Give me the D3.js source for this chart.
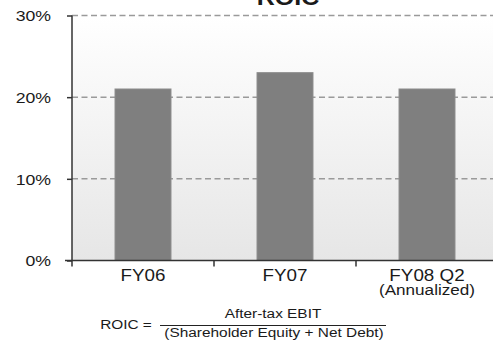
<!DOCTYPE html>
<html>
<head>
<meta charset="utf-8">
<script src="https://cdn.jsdelivr.net/npm/d3@7"></script>
<style>
  html, body { margin: 0; padding: 0; background: #fff; }
  svg { display: block; font-family: "Liberation Sans", Arial, sans-serif; }
</style>
</head>
<body>
<svg id="chart" width="493" height="344"></svg>
<script>
// ROIC by fiscal period
const categories = ["FY06", "FY07", "FY08 Q2"];
const subLabels = ["", "", "(Annualized)"];
const roic = [0.21, 0.23, 0.21];
const yTicks = [0, 0.10, 0.20, 0.30];

(function () {
  const W = 493;
  const plotLeft = 72, plotRight = 498, plotTop = 15.5, plotBottom = 260.5;
  const sx = 1.14; // horizontal text stretch

  const svg = d3.select("#chart");

  const defs = svg.append("defs");
  const grad = defs.append("linearGradient")
    .attr("id", "bg").attr("x1", 0).attr("y1", 0).attr("x2", 0).attr("y2", 1);
  grad.append("stop").attr("offset", "0%").attr("stop-color", "#ffffff");
  grad.append("stop").attr("offset", "100%").attr("stop-color", "#e6e6e6");

  const x = d3.scaleBand()
    .domain(categories)
    .range([plotLeft, plotRight])
    .paddingInner(0.606)
    .paddingOuter(0.303);

  const y = d3.scaleLinear().domain([0, 0.30]).range([plotBottom, plotTop]);

  // plot background
  svg.append("rect")
    .attr("x", plotLeft).attr("y", y(0.30))
    .attr("width", plotRight - plotLeft).attr("height", y(0) - y(0.30))
    .attr("fill", "url(#bg)");

  // dashed gridlines
  svg.append("g").selectAll("line")
    .data(yTicks.filter(d => d > 0))
    .join("line")
    .attr("x1", plotLeft).attr("x2", W)
    .attr("y1", d => y(d)).attr("y2", d => y(d))
    .attr("stroke", "#9a9a9a").attr("stroke-width", 1.5)
    .attr("stroke-dasharray", "6,3.5");

  // bars
  svg.append("g").selectAll("rect")
    .data(categories)
    .join("rect")
    .attr("x", d => x(d))
    .attr("y", (d, i) => y(roic[i]))
    .attr("width", x.bandwidth())
    .attr("height", (d, i) => y(0) - y(roic[i]))
    .attr("fill", "#7f7f7f")
    .attr("stroke", "#8c8c8c").attr("stroke-width", 1);

  // y axis
  const yAxis = d3.axisLeft(y)
    .tickValues(yTicks)
    .tickFormat(d3.format(".0%"))
    .tickSize(5)
    .tickPadding(16);
  const gy = svg.append("g").attr("transform", `translate(${plotLeft},0)`).call(yAxis);
  gy.select(".domain").remove();
  gy.selectAll(".tick line").attr("stroke", "#333").attr("stroke-width", 1.5);
  gy.selectAll(".tick text")
    .attr("fill", "#1a1a1a")
    .style("font-size", "15.5px")
    .style("font-family", "'Liberation Sans', Arial, sans-serif")
    .attr("dy", "0.35em")
    .attr("transform", function () {
      const tx = +d3.select(this).attr("x");
      return `translate(${-tx * (sx - 1)},0) scale(${sx},1)`;
    });

  svg.append("line")
    .attr("x1", plotLeft).attr("x2", plotLeft)
    .attr("y1", y(0.30)).attr("y2", y(0) + 6)
    .attr("stroke", "#333").attr("stroke-width", 1.5);

  // x axis
  svg.append("line")
    .attr("x1", plotLeft - 7).attr("x2", W)
    .attr("y1", y(0)).attr("y2", y(0))
    .attr("stroke", "#333").attr("stroke-width", 1.5);

  const step = x.step();
  const boundaries = categories.map(c => x(c) + x.bandwidth() / 2 + step / 2);
  svg.append("g").selectAll("line")
    .data(boundaries)
    .join("line")
    .attr("x1", d => d).attr("x2", d => d)
    .attr("y1", y(0)).attr("y2", y(0) + 6)
    .attr("stroke", "#333").attr("stroke-width", 1.5);

  function stretchedText(g, tx, ty, str, size, weight) {
    return g.append("text")
      .attr("transform", `translate(${tx},${ty}) scale(${sx},1)`)
      .attr("text-anchor", "middle")
      .attr("fill", "#1a1a1a")
      .style("font-size", size + "px")
      .style("font-weight", weight || "normal")
      .text(str);
  }

  const labels = svg.append("g");
  categories.forEach((c, i) => {
    const cx = x(c) + x.bandwidth() / 2;
    stretchedText(labels, cx, 281, c, 16.5);
    if (subLabels[i]) stretchedText(labels, cx, 295, subLabels[i], 15);
  });

  // title
  stretchedText(svg, 288, 5, "ROIC", 22, "bold");

  // formula
  const f = svg.append("g");
  stretchedText(f, 126, 329, "ROIC =", 13.5);
  stretchedText(f, 273, 318, "After-tax EBIT", 13.5);
  f.append("line")
    .attr("x1", 160).attr("x2", 386)
    .attr("y1", 325.5).attr("y2", 325.5)
    .attr("stroke", "#222").attr("stroke-width", 1);
  stretchedText(f, 274, 337, "(Shareholder Equity + Net Debt)", 13.5);
})();
</script>
</body>
</html>
